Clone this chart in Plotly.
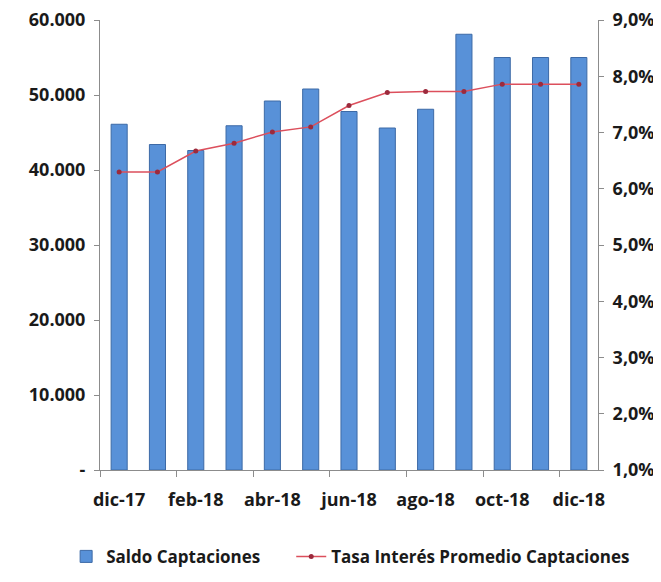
import plotly.graph_objects as go

# monthly data
months = ["dic-17", "ene-18", "feb-18", "mar-18", "abr-18", "may-18", "jun-18",
          "jul-18", "ago-18", "sep-18", "oct-18", "nov-18", "dic-18"]
saldo_captaciones = [46100, 43400, 42600, 45900, 49200, 50800, 47800,
                     45600, 48100, 58100, 55000, 55000, 55000]
tasa_interes = [6.30, 6.30, 6.67, 6.81, 7.01, 7.10, 7.48,
                7.71, 7.73, 7.73, 7.86, 7.86, 7.86]

left_tickvals = [0, 10000, 20000, 30000, 40000, 50000, 60000]
left_ticktext = ["-", "10.000", "20.000", "30.000", "40.000", "50.000", "60.000"]

FONT = "Open Sans"
AXIS_COLOR = "#8c8c8c"
tick_font = dict(family=FONT, size=18, color="#1a1a1a", weight="bold")
legend_font = dict(family=FONT, size=17, color="#1a1a1a", weight="bold")

fig = go.Figure()

fig.add_trace(
    go.Bar(
        x=months,
        y=saldo_captaciones,
        name="Saldo Captaciones",
        marker=dict(color="#5891d8", line=dict(color="#3d6aa6", width=1)),
        legend="legend",
    )
)

fig.add_trace(
    go.Scatter(
        x=months,
        y=tasa_interes,
        name="Tasa Interés Promedio Captaciones",
        mode="lines+markers",
        yaxis="y2",
        line=dict(color="#dc4f5c", width=1.5),
        marker=dict(color="#9c2a3c", size=5),
        legend="legend2",
    )
)

# the page puts the figure 8px in from the top-left corner
fig.update_layout(
    width=653,
    height=574,
    margin=dict(l=92, r=63, t=12, b=112, autoexpand=False),
    paper_bgcolor="white",
    plot_bgcolor="white",
    bargap=0.58,
    separators=",.",
    font=dict(family=FONT, size=18, color="#1a1a1a"),
    showlegend=True,
    legend=dict(
        orientation="h",
        x=-0.068,
        xanchor="left",
        y=-0.193,
        yanchor="middle",
        font=legend_font,
        itemwidth=30,
    ),
    legend2=dict(
        orientation="h",
        x=0.384,
        xanchor="left",
        y=-0.193,
        yanchor="middle",
        font=legend_font,
        itemwidth=30,
    ),
    xaxis=dict(
        type="category",
        tickson="boundaries",
        dtick=2,
        tickangle=0,
        ticks="outside",
        ticklen=6,
        tickcolor=AXIS_COLOR,
        showline=True,
        linecolor=AXIS_COLOR,
        showgrid=False,
        tickfont=tick_font,
        ticklabelstandoff=13,
        ticklabeloverflow="allow",
        range=[-0.5, 12.5],
        automargin=False,
    ),
    yaxis=dict(
        range=[0, 60000],
        tickvals=left_tickvals,
        ticktext=left_ticktext,
        ticks="outside",
        ticklen=5,
        tickcolor=AXIS_COLOR,
        showline=True,
        linecolor=AXIS_COLOR,
        showgrid=False,
        zeroline=False,
        tickfont=tick_font,
        ticklabelstandoff=5,
        ticklabeloverflow="allow",
        automargin=False,
    ),
    yaxis2=dict(
        overlaying="y",
        side="right",
        range=[1, 9],
        dtick=1,
        tickformat=".1f",
        ticksuffix="%",
        ticks="outside",
        ticklen=5,
        tickcolor=AXIS_COLOR,
        showline=True,
        linecolor=AXIS_COLOR,
        showgrid=False,
        zeroline=False,
        tickfont=tick_font,
        ticklabelstandoff=5,
        ticklabeloverflow="allow",
        automargin=False,
    ),
)

fig.write_html("out.html")
